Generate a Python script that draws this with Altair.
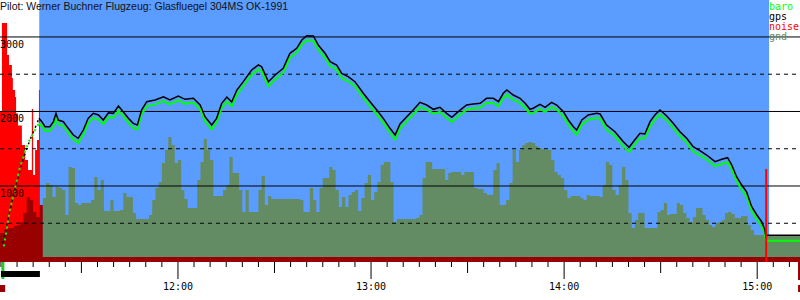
import altair as alt
import pandas as pd

# ---------------- data ----------------
title_text = "Pilot: Werner Buchner Flugzeug: Glasfluegel 304MS OK-1991"
t_domain = [664.7, 913.3]          # minutes after midnight
alt_domain = [-20, 3496]           # metres

flight_start, flight_end = 676.9, 903.7

gps_time = [665.6, 668.7, 671.8, 674.0, 675.6, 676.8, 677.7, 678.7, 680.2, 681.3, 682.1, 682.8,
            684.4, 685.9, 687.5, 689.0, 690.6, 692.1, 693.7, 695.3, 696.8, 698.4, 699.9, 701.5,
            703.0, 704.6, 706.1, 707.4, 708.7, 710.3, 712.9, 715.5, 717.5, 720.1, 722.2, 724.8,
            726.9, 728.4, 730.5, 732.0, 733.6, 735.2, 736.7, 738.3, 740.3, 742.9, 745.0, 746.0,
            748.1, 750.2, 752.7, 754.8, 756.9, 758.5, 760.0, 762.1, 763.6, 765.7, 767.3, 769.3,
            770.9, 772.9, 775.0, 777.6, 779.7, 781.8, 783.8, 785.9, 787.5, 789.0, 791.1, 793.1,
            795.2, 797.3, 799.4, 801.4, 803.5, 805.1, 807.1, 809.7, 811.8, 813.9, 815.9, 818.0,
            819.6, 821.1, 822.2, 824.2, 826.3, 827.9, 829.4, 830.4, 832.5, 834.1, 836.1, 837.7,
            839.8, 841.3, 842.9, 843.9, 845.5, 847.5, 850.1, 851.2, 853.2, 855.8, 858.4, 860.2,
            861.5, 863.6, 865.1, 866.7, 868.2, 869.8, 871.9, 873.9, 876.0, 878.1, 880.1, 882.2,
            884.3, 886.9, 889.0, 890.8, 892.1, 893.6, 895.2, 896.7, 898.3, 899.9, 901.4, 902.4,
            902.7, 903.0, 913.3]
gps_alt = [235, 852, 1349, 1617, 1778, 1908, 1863, 1796, 1796, 1863, 1975, 1885,
           1863, 1774, 1684, 1640, 1751, 1908, 1975, 1953, 1886, 1983, 1975, 2073,
           1997, 1908, 1841, 1818, 2020, 2131, 2154, 2198, 2154, 2208, 2163, 2177,
           2087, 1930, 1818, 1908, 2110, 2194, 2127, 2288, 2400, 2557, 2624, 2601,
           2400, 2489, 2579, 2781, 2848, 2959, 3017, 3013, 2892, 2781, 2668, 2624,
           2512, 2467, 2400, 2244, 2131, 2020, 1908, 1774, 1684, 1832, 1930, 2020,
           2123, 2087, 2029, 2056, 1975, 1922, 1997, 2087, 2100, 2110, 2177, 2177,
           2131, 2244, 2288, 2221, 2177, 2110, 2029, 2043, 2096, 2056, 2123, 2087,
           1997, 1886, 1796, 1751, 1886, 1953, 1975, 1966, 1818, 1729, 1594, 1519,
           1594, 1707, 1698, 1863, 1953, 2020, 1939, 1841, 1729, 1640, 1527, 1474,
           1416, 1326, 1358, 1380, 1282, 1125, 1013, 923, 722, 611, 521, 409,
           319, 339, 339]
gps_tow_points = 6          # first points recorded during the tow (drawn dotted)

baro_time = [665.9, 667.8, 670.9, 673.4, 675.6, 676.5] + gps_time[5:]
baro_alt = [190, 678, 1255, 1577, 1751, 1818,
            1840, 1810, 1740, 1740, 1800, 1905, 1830,
            1805, 1715, 1625, 1580, 1690, 1845, 1915, 1895, 1830, 1925, 1915, 2010,
            1940, 1850, 1780, 1760, 1960, 2070, 2095, 2140, 2095, 2150, 2105, 2120,
            2030, 1870, 1760, 1850, 2050, 2135, 2070, 2225, 2340, 2495, 2565, 2540,
            2340, 2430, 2520, 2720, 2790, 2900, 2955, 2950, 2830, 2720, 2610, 2565,
            2450, 2405, 2340, 2185, 2070, 1960, 1850, 1715, 1620, 1770, 1870, 1960,
            2060, 2025, 1970, 1995, 1915, 1860, 1935, 2025, 2040, 2050, 2115, 2115,
            2070, 2180, 2225, 2160, 2115, 2050, 1970, 1980, 2035, 1995, 2060, 2025,
            1935, 1825, 1735, 1690, 1825, 1890, 1915, 1905, 1755, 1670, 1535, 1460,
            1535, 1645, 1640, 1800, 1890, 1960, 1880, 1780, 1670, 1580, 1465, 1415,
            1355, 1265, 1295, 1320, 1220, 1065, 950, 860, 660, 550, 460, 350,
            280, 264, 264]
baro_tow_points = 7

# ground elevation, one sample per minute from 11:18
gnd_first_minute = 678
gnd_alt = [839, 1040, 1013, 852, 986, 973, 946, 611, 1255, 1241, 772, 745, 772, 772, 772, 812,
           1121, 946, 1080, 664, 664, 812, 664, 664, 678, 906, 852, 852, 637, 557, 557, 557,
           557, 611, 812, 973, 1053, 1308, 1483, 1657, 1550, 1308, 1349, 946, 825, 705, 705, 705,
           1080, 1322, 1631, 1483, 1349, 866, 866, 866, 946, 1013, 1389, 1174, 1174, 946, 651, 946,
           651, 651, 651, 946, 1134, 745, 866, 825, 825, 825, 825, 825, 825, 825, 825, 825,
           812, 651, 651, 973, 812, 651, 973, 1107, 1107, 1255, 1215, 946, 718, 852, 718, 879,
           919, 946, 664, 839, 1040, 1147, 812, 919, 1053, 1282, 1322, 1322, 1053, 517, 557, 557,
           557, 557, 557, 557, 570, 611, 1107, 1322, 1322, 1228, 1228, 1228, 1228, 1080, 1174, 1188,
           1188, 1188, 1147, 1188, 1188, 1188, 973, 960, 960, 906, 879, 879, 1215, 1308, 745, 745,
           812, 1040, 1483, 1322, 1483, 1550, 1577, 1590, 1577, 1537, 1510, 1496, 1483, 1483, 1349, 1188,
           1147, 1107, 946, 839, 866, 866, 866, 839, 812, 879, 866, 866, 866, 852, 1013, 1322,
           1282, 946, 879, 1013, 1255, 1080, 637, 436, 544, 637, 637, 436, 436, 436, 436, 651,
           678, 772, 611, 624, 624, 772, 745, 637, 570, 517, 584, 705, 705, 611, 544, 476,
           450, 503, 517, 544, 637, 651, 624, 570, 570, 597, 597, 476, 409, 342, 342, 342,
           329, 329, 329, 329, 329, 329, 329, 329, 329, 329, 329, 329, 329]

# ground under the tow / engine phase (drawn dark red)
tow_time = [664.7, 666, 667, 668, 669, 670, 671, 672, 673, 674, 675, 676, 677, 678]
tow_alt = [369, 409, 436, 436, 463, 476, 517, 637, 852, 812, 651, 584, 745, 745]

# noise level
noise_time = [664.7, 665.3, 666.9, 667.5, 668.4, 668.7, 669.4, 669.7, 670.3, 671.5, 672.5,
              673.4, 674.6, 675.0, 675.6, 676.2, 676.8, 677.1]
noise_alt = [2000, 3187, 2758, 2624, 2449, 2288, 2194, 1972, 1812, 1550, 1349,
             1215, 2033, 1147, 1483, 1617, 2288, 0]
noise_spike_time, noise_spike_alt = 902.8, 1228

grid_solid = [1000, 2000, 3000]
grid_dashed = [500, 1500, 2500]
ylabel_values = [1000, 2000, 3000]

minor_ticks = list(range(665, 915, 5))
hour_ticks = [720, 780, 840, 900]
hour_labels = ["12:00", "13:00", "14:00", "15:00"]

legend_names = ["baro", "gps", "noise", "gnd"]
legend_colors = ["#00ff00", "#000000", "#ff0000", "#648c64"]

BLUE = "#5a9cff"
GND = "#648c64"
DARKRED = "#990000"
MONO = "DejaVu Sans Mono"

# ---------------- frames ----------------
gps_df = pd.DataFrame({"t": gps_time, "a": gps_alt})
baro_df = pd.DataFrame({"t": baro_time, "a": baro_alt})
gnd_df = pd.DataFrame({"t": [gnd_first_minute + i for i in range(len(gnd_alt))], "a": gnd_alt})
tow_df = pd.DataFrame({"t": tow_time, "a": tow_alt})
noise_df = pd.DataFrame({"t": noise_time, "a": noise_alt})

xs = alt.Scale(domain=t_domain, nice=False, zero=False)
ys = alt.Scale(domain=alt_domain, nice=False, zero=False)
X = lambda f="t": alt.X(f"{f}:Q", scale=xs, axis=None)
Y = lambda f="a": alt.Y(f"{f}:Q", scale=ys, axis=None)

blue = alt.Chart(pd.DataFrame({"t0": [flight_start], "t1": [flight_end], "a0": [47], "a1": [alt_domain[1]]})).mark_rect(
    color=BLUE).encode(x=X("t0"), x2="t1:Q", y=Y("a0"), y2="a1:Q")

noise = alt.Chart(noise_df).mark_area(interpolate="step-after", color="#ff0000").encode(x=X(), y=Y())
gnd = alt.Chart(gnd_df).mark_area(interpolate="step-after", color=GND).encode(x=X(), y=Y())
tow = alt.Chart(tow_df).mark_area(interpolate="step-after", color=DARKRED).encode(x=X(), y=Y())

solid = alt.Chart(pd.DataFrame({"a": grid_solid})).mark_rule(color="black", strokeWidth=1).encode(
    y=Y(), x=alt.value(0), x2=alt.value(800))
dashed = alt.Chart(pd.DataFrame({"a": grid_dashed})).mark_rule(color="black", strokeWidth=1, strokeDash=[4, 4]).encode(
    y=Y(), x=alt.value(0), x2=alt.value(800))

baro_tow = alt.Chart(baro_df.iloc[:baro_tow_points]).mark_line(
    color="#00ff00", strokeWidth=2, strokeDash=[2, 4]).encode(x=X(), y=Y())
baro = alt.Chart(baro_df.iloc[baro_tow_points - 1:]).mark_line(color="#00ff00", strokeWidth=2).encode(x=X(), y=Y())
gps_tow = alt.Chart(gps_df.iloc[:gps_tow_points]).mark_line(
    color="black", strokeWidth=1.5, strokeDash=[2, 4]).encode(x=X(), y=Y())
gps = alt.Chart(gps_df.iloc[gps_tow_points - 1:]).mark_line(color="black", strokeWidth=1.5).encode(x=X(), y=Y())

band = alt.Chart(pd.DataFrame({"t0": [t_domain[0]], "t1": [t_domain[1]], "a0": [alt_domain[0]], "a1": [47]})).mark_rect(
    color=DARKRED).encode(x=X("t0"), x2="t1:Q", y=Y("a0"), y2="a1:Q")

spike = alt.Chart(pd.DataFrame({"t": [noise_spike_time], "a0": [alt_domain[0]], "a1": [noise_spike_alt]})).mark_rule(
    color="#ff0000", strokeWidth=2).encode(x=X(), y=Y("a0"), y2="a1:Q")

ylabels = alt.Chart(pd.DataFrame({"a": ylabel_values, "txt": [str(v) for v in ylabel_values]})).mark_text(
    font=MONO, fontSize=10, align="left", baseline="alphabetic", dy=11, color="black").encode(
    y=Y(), x=alt.value(0), text="txt:N")

title = alt.Chart(pd.DataFrame({"txt": [title_text]})).mark_text(
    font="Liberation Sans", fontSize=10.5, align="left", baseline="alphabetic", color="#111111").encode(
    x=alt.value(0), y=alt.value(10), text="txt:N")

legend_layers = [
    alt.Chart(pd.DataFrame({"name": [n]})).mark_text(
        font=MONO, fontSize=10, align="left", baseline="alphabetic", color=c).encode(
        x=alt.value(769), y=alt.value(9.5 + 10 * i), text="name:N")
    for i, (n, c) in enumerate(zip(legend_names, legend_colors))
]

minor_df = pd.DataFrame({"t": [m for m in minor_ticks if m % 30 != 0]})
half_df = pd.DataFrame({"t": [m for m in minor_ticks if m % 30 == 0 and m % 60 != 0]})
hour_df = pd.DataFrame({"t": hour_ticks, "lab": hour_labels})

tick_minor = alt.Chart(minor_df).mark_rule(color="black", strokeWidth=1).encode(
    x=X(), y=alt.value(262), y2=alt.value(267))
tick_half = alt.Chart(half_df).mark_rule(color="black", strokeWidth=1).encode(
    x=X(), y=alt.value(262), y2=alt.value(273))
tick_hour = alt.Chart(hour_df).mark_rule(color="black", strokeWidth=1).encode(
    x=X(), y=alt.value(262), y2=alt.value(279))
tick_lab = alt.Chart(hour_df).mark_text(font=MONO, fontSize=10, align="center", baseline="alphabetic",
                                        color="black").encode(x=X(), y=alt.value(290), text="lab:N")

# event markers below the time axis
mk_green = alt.Chart(pd.DataFrame({"t": [665.6]})).mark_rule(color="#22cc22", strokeWidth=3).encode(
    x=X(), y=alt.value(262), y2=alt.value(279))
mk_bar = alt.Chart(pd.DataFrame({"t0": [665.0], "t1": [677.1]})).mark_rect(color="black").encode(
    x=X("t0"), x2="t1:Q", y=alt.value(271), y2=alt.value(277))
mk_sq = alt.Chart(pd.DataFrame({"t0": [664.7, 912.7], "t1": [666.3, 913.3]})).mark_rect(color=DARKRED).encode(
    x=X("t0"), x2="t1:Q", y=alt.value(285), y2=alt.value(292))
mk_end = alt.Chart(pd.DataFrame({"t": [913.0]})).mark_rule(color=DARKRED, strokeWidth=2).encode(
    x=X(), y=alt.value(262), y2=alt.value(280))

chart = alt.layer(
    blue, noise, gnd, tow, solid, dashed, baro_tow, baro, gps_tow, gps, band, spike,
    ylabels, title, *legend_layers, tick_minor, tick_half, tick_hour, tick_lab,
    mk_green, mk_bar, mk_sq, mk_end
).properties(
    width=800, height=262, padding={"left": 0, "top": 0, "right": 0, "bottom": 38},
    autosize="none", background="white"
).configure_view(stroke=None)

chart.save("out.html", embed_options={"renderer": "svg", "actions": False})
